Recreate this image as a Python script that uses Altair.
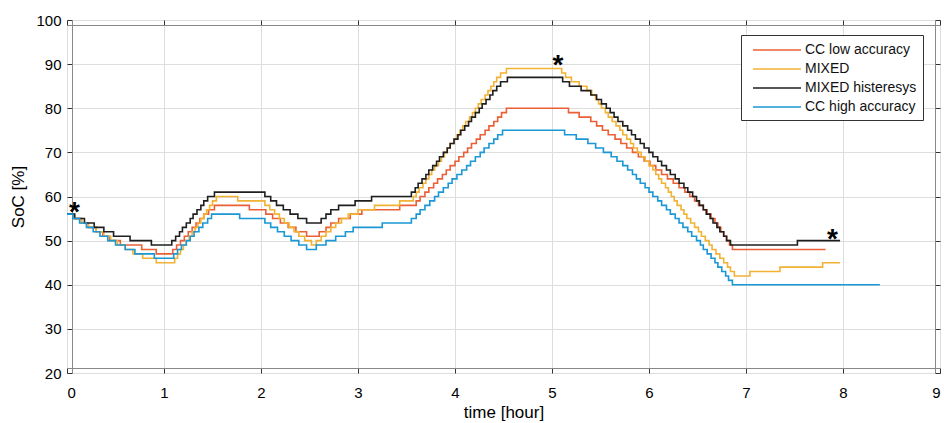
import altair as alt
import pandas as pd

# ---- data ----
black_t = [0, 0.08, 0.18, 0.28, 0.38, 0.48, 0.65, 0.87,
           1.08, 1.12, 1.16, 1.19, 1.23, 1.27, 1.30, 1.34, 1.38, 1.41, 1.45, 1.52,
           2.04, 2.10, 2.16, 2.23, 2.30, 2.38, 2.47,
           2.62, 2.67, 2.72, 2.80, 2.97, 3.14,
           3.55, 3.59, 3.62, 3.66, 3.70, 3.73, 3.77, 3.81, 3.84, 3.88,
           3.92, 3.95, 3.99, 4.03, 4.06, 4.10, 4.14, 4.17, 4.21, 4.25,
           4.28, 4.32, 4.36, 4.39, 4.43, 4.47, 4.54,
           5.11, 5.18, 5.30, 5.40, 5.46, 5.51, 5.56, 5.60, 5.64, 5.68,
           5.73, 5.78, 5.82, 5.86, 5.91, 5.95, 6.00, 6.04, 6.09, 6.13,
           6.18, 6.22, 6.27, 6.31, 6.36, 6.40, 6.45, 6.49, 6.52, 6.56,
           6.59, 6.63, 6.66, 6.70, 6.73, 6.77, 6.80, 6.84, 6.87,
           7.53, 7.97]
black_v = [56, 55, 54, 53, 52, 51, 50, 49,
           50, 51, 52, 53, 54, 55, 56, 57, 58, 59, 60, 61,
           60, 59, 58, 57, 56, 55, 54,
           55, 56, 57, 58, 59, 60,
           61, 62, 63, 64, 65, 66, 67, 68, 69, 70,
           71, 72, 73, 74, 75, 76, 77, 78, 79, 80,
           81, 82, 83, 84, 85, 86, 87,
           86, 85, 84, 83, 82, 81, 80, 79, 78, 77,
           76, 75, 74, 73, 72, 71, 70, 69, 68, 67,
           66, 65, 64, 63, 62, 61, 60, 59, 58, 57,
           56, 55, 54, 53, 52, 51, 50, 49, 49,
           50, 50]

orange_t = [0, 0.07, 0.15, 0.22, 0.30, 0.38, 0.45, 0.52, 0.60, 0.68, 0.78, 0.92,
            1.11, 1.14, 1.17, 1.20, 1.23, 1.26, 1.29, 1.32, 1.35, 1.38, 1.41, 1.44, 1.47, 1.50, 1.54,
            1.76,
            2.04, 2.09, 2.14, 2.19, 2.24, 2.29, 2.34, 2.39, 2.45, 2.52,
            2.57, 2.62, 2.67, 2.72, 2.77, 2.83, 2.90, 3.00, 3.17, 3.43,
            3.57, 3.60, 3.63, 3.67, 3.70, 3.73, 3.76, 3.79, 3.83, 3.86,
            3.89, 3.92, 3.95, 3.99, 4.02, 4.05, 4.08, 4.11, 4.15, 4.18,
            4.21, 4.24, 4.27, 4.31, 4.34, 4.37, 4.40, 4.43, 4.47, 4.53,
            5.10, 5.14, 5.20, 5.28, 5.36, 5.41, 5.45, 5.48, 5.51, 5.55, 5.58, 5.62,
            5.66, 5.70, 5.73, 5.77, 5.81, 5.84, 5.88, 5.92, 5.96, 6.00, 6.04,
            6.07, 6.10, 6.13, 6.17, 6.20, 6.23, 6.26, 6.29, 6.33, 6.36, 6.39,
            6.43, 6.47, 6.51, 6.54, 6.58, 6.62, 6.65, 6.69, 6.73, 6.77, 6.81, 6.84, 6.88, 6.92,
            7.04, 7.35, 7.79, 7.97]
orange_v = [56, 55, 54, 53, 52, 51, 50, 49, 48, 47, 46, 45,
            46, 47, 48, 49, 50, 51, 52, 53, 54, 55, 56, 57, 58, 59, 60,
            59,
            58, 57, 56, 55, 54, 53, 52, 51, 50, 49,
            50, 51, 52, 53, 54, 55, 56, 57, 58, 59,
            60, 61, 62, 63, 64, 65, 66, 67, 68, 69,
            70, 71, 72, 73, 74, 75, 76, 77, 78, 79,
            80, 81, 82, 83, 84, 85, 86, 87, 88, 89,
            88, 87, 86, 85, 84, 83, 82, 81, 80, 79, 78, 77,
            76, 75, 74, 73, 72, 71, 70, 69, 68, 67, 66,
            65, 64, 63, 62, 61, 60, 59, 58, 57, 56, 55,
            54, 53, 52, 51, 50, 49, 48, 47, 46, 45, 44, 43, 42, 42,
            43, 44, 45, 45]

red_t = [0, 0.07, 0.15, 0.22, 0.30, 0.37, 0.44, 0.55, 0.77, 0.92,
         1.09, 1.13, 1.17, 1.21, 1.25, 1.29, 1.33, 1.37, 1.41, 1.46, 1.52,
         1.88,
         2.05, 2.12, 2.20, 2.28, 2.36, 2.47,
         2.60, 2.67, 2.72, 2.80, 2.92, 3.04, 3.43,
         3.60, 3.64, 3.69, 3.73, 3.78, 3.82, 3.87, 3.91, 3.95, 4.00,
         4.04, 4.09, 4.13, 4.17, 4.22, 4.26, 4.31, 4.35, 4.40, 4.44,
         4.48, 4.53,
         5.17, 5.28, 5.40, 5.46, 5.52, 5.58, 5.65, 5.71, 5.77, 5.83,
         5.89, 5.95, 6.01, 6.07, 6.13, 6.19, 6.25, 6.31, 6.37, 6.42,
         6.47, 6.51, 6.56, 6.60, 6.64, 6.68, 6.71, 6.74, 6.77, 6.80,
         6.83, 6.86, 7.82]
red_v = [56, 55, 54, 53, 52, 51, 50, 49, 48, 47,
         48, 49, 50, 51, 52, 53, 54, 55, 56, 57, 58,
         57,
         56, 55, 54, 53, 52, 51,
         52, 53, 54, 55, 56, 57, 58,
         59, 60, 61, 62, 63, 64, 65, 66, 67, 68,
         69, 70, 71, 72, 73, 74, 75, 76, 77, 78,
         79, 80,
         79, 78, 77, 76, 75, 74, 73, 72, 71, 70,
         69, 68, 67, 66, 65, 64, 63, 62, 61, 60,
         59, 58, 57, 56, 55, 54, 53, 52, 51, 50,
         49, 48, 48]

blue_t = [0, 0.06, 0.13, 0.20, 0.27, 0.34, 0.42, 0.50, 0.60, 0.70, 0.90,
          1.10, 1.14, 1.18, 1.23, 1.27, 1.31, 1.36, 1.40, 1.45, 1.49,
          1.78,
          2.04, 2.10, 2.17, 2.24, 2.31, 2.39, 2.47,
          2.57, 2.67, 2.77, 2.87, 2.95, 3.25,
          3.55, 3.60, 3.64, 3.69, 3.74, 3.79, 3.83, 3.88, 3.93, 3.97,
          4.02, 4.07, 4.12, 4.16, 4.21, 4.26, 4.30, 4.35, 4.40, 4.44,
          4.49,
          5.13, 5.25, 5.37, 5.45, 5.53, 5.61, 5.67, 5.73, 5.78, 5.83,
          5.87, 5.91, 5.96, 6.00, 6.04, 6.09, 6.13, 6.18, 6.22, 6.27,
          6.31, 6.35, 6.40, 6.44, 6.49, 6.53, 6.56, 6.60, 6.64, 6.68,
          6.71, 6.75, 6.79, 6.82, 6.86, 8.38]
blue_v = [56, 55, 54, 53, 52, 51, 50, 49, 48, 47, 46,
          47, 48, 49, 50, 51, 52, 53, 54, 55, 56,
          55,
          54, 53, 52, 51, 50, 49, 48,
          49, 50, 51, 52, 53, 54,
          55, 56, 57, 58, 59, 60, 61, 62, 63, 64,
          65, 66, 67, 68, 69, 70, 71, 72, 73, 74,
          75,
          74, 73, 72, 71, 70, 69, 68, 67, 66, 65,
          64, 63, 62, 61, 60, 59, 58, 57, 56, 55,
          54, 53, 52, 51, 50, 49, 48, 47, 46, 45,
          44, 43, 42, 41, 40, 40]

series_names = ["CC low accuracy", "MIXED", "MIXED histeresys", "CC high accuracy"]
series_colors = ["#ea5f36", "#f2b233", "#1f1f1f", "#1a97d5"]

star_t = [0.076, 5.062, 7.891]
star_v = [58.1, 91.3, 52.0]

x_ticks = [0, 1, 2, 3, 4, 5, 6, 7, 8, 9]
y_ticks = [20, 30, 40, 50, 60, 70, 80, 90, 100]

# ---- table ----
frames = []
for name, ts, vs in [("CC low accuracy", red_t, red_v),
                     ("MIXED", orange_t, orange_v),
                     ("MIXED histeresys", black_t, black_v),
                     ("CC high accuracy", blue_t, blue_v)]:
    frames.append(pd.DataFrame({"time": ts, "soc": vs, "series": name,
                                "order": range(len(ts))}))
df = pd.concat(frames, ignore_index=True)
stars = pd.DataFrame({"time": star_t, "soc": star_v, "label": "*"})

FONT = "Liberation Sans"
TXT = "#303030"
TICK = "#333333"

x_scale = alt.Scale(domain=[0, 9], nice=False)
y_scale = alt.Scale(domain=[20, 100], nice=False)

x_enc = alt.X("time:Q", scale=x_scale,
              axis=alt.Axis(title="time [hour]", values=x_ticks, format="d",
                            orient="bottom", offset=-5, ticks=True, tickSize=5,
                            tickColor=TICK,
                            labelFontSize=15, titleFontSize=17,
                            titleFontWeight="normal",
                            labelPadding=12, titlePadding=4))
y_enc = alt.Y("soc:Q", scale=y_scale,
              axis=alt.Axis(title="SoC [%]", values=y_ticks, format="d",
                            orient="left", offset=-5, ticks=True, tickSize=5,
                            tickColor=TICK,
                            labelFontSize=15, titleFontSize=17,
                            titleFontWeight="normal",
                            labelPadding=6, titlePadding=8))

lines = alt.Chart(df).mark_line(interpolate="step-after", strokeWidth=1.6).encode(
    x=x_enc,
    y=y_enc,
    order="order:Q",
    color=alt.Color("series:N",
                    scale=alt.Scale(domain=series_names, range=series_colors),
                    sort=series_names,
                    legend=alt.Legend(orient="none", legendX=674, legendY=15,
                                      title=None,
                                      symbolType="M-3,0L3,0",
                                      symbolSize=256, symbolStrokeWidth=1.6,
                                      symbolOffset=21, labelOffset=19,
                                      labelFontSize=14, labelFont=FONT,
                                      labelColor="#111", rowPadding=3,
                                      padding=6, strokeColor="#333",
                                      fillColor="white")),
)

star_marks = alt.Chart(stars).mark_text(fontSize=28, fontWeight="bold",
                                        baseline="alphabetic", dy=16,
                                        color="black", font=FONT).encode(
    x=alt.X("time:Q", scale=x_scale,
            axis=alt.Axis(orient="top", title=None, labels=False, grid=False,
                          values=x_ticks, offset=-5, ticks=True, tickSize=5,
                          tickColor=TICK)),
    y=alt.Y("soc:Q", scale=y_scale,
            axis=alt.Axis(orient="right", title=None, labels=False, grid=False,
                          values=y_ticks, offset=-5, ticks=True, tickSize=5,
                          tickColor=TICK)),
    text="label:N")

chart = alt.layer(lines, star_marks).resolve_axis(
    x="independent", y="independent"
).properties(
    width=873, height=353,
    padding={"left": 67, "top": 20, "right": 4, "bottom": 50},
    autosize=alt.AutoSizeParams(type="none"),
).configure_view(stroke="#333", strokeWidth=1).configure_axis(
    grid=True, gridColor="#e3e3e3", gridWidth=1,
    domain=False,
    labelFont=FONT, titleFont=FONT, labelColor=TXT, titleColor=TXT,
    titleFontWeight="normal",
).configure(background="white")

chart.save("out.html", embed_options={"renderer": "svg", "actions": False})
